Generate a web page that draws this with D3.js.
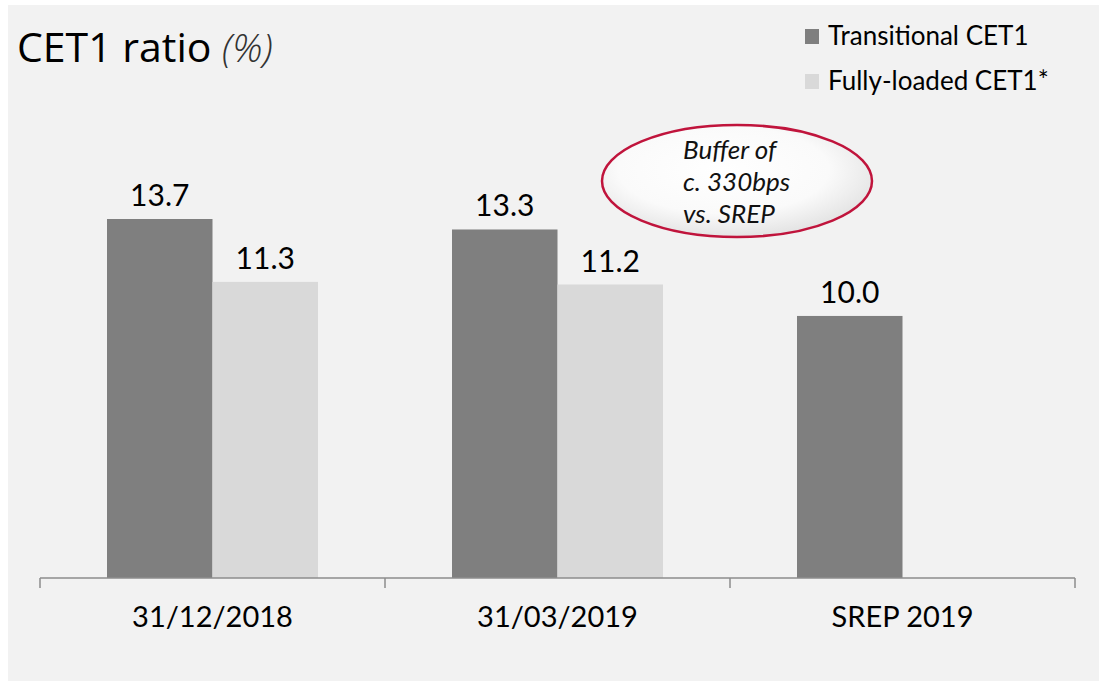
<!DOCTYPE html>
<html>
<head>
<meta charset="utf-8">
<script src="https://cdn.jsdelivr.net/npm/d3@7"></script>
<style>
  body { margin: 0; background: #fff; }
  svg { display: block; font-family: Lato, "Open Sans", sans-serif; }
</style>
</head>
<body>
<div id="chart"></div>
<script>
// data
const categories = ['31/12/2018', '31/03/2019', 'SREP 2019'];
const seriesNames = ['Transitional CET1', 'Fully-loaded CET1*'];
const transitional = [13.7, 13.3, 10.0];
const fullyLoaded = [11.3, 11.2, null];
const seriesColors = ['#7f7f7f', '#d9d9d9'];
const calloutLines = ['Buffer of', 'c. 330bps', 'vs. SREP'];

const W = 1099, H = 681;
const svg = d3.select('#chart').append('svg')
    .attr('width', W)
    .attr('height', H);

// grey panel
svg.append('rect')
    .attr('x', 8).attr('y', 5)
    .attr('width', W - 8).attr('height', H - 5)
    .attr('fill', '#f2f2f2');

const baseY = 578;
const x = d3.scaleBand().domain(categories).range([40, 1075]).paddingInner(0).paddingOuter(0);
const inner = d3.scaleBand().domain(seriesNames).range([0, 211]);
const y = d3.scaleLinear().domain([0, 13.7]).range([baseY, 219]);

const rows = categories.map((c, i) => ({cat: c, vals: [transitional[i], fullyLoaded[i]]}));

const groups = svg.selectAll('.grp')
    .data(rows)
    .enter()
    .append('g')
    .attr('class', 'grp')
    .attr('transform', d => `translate(${x(d.cat) + (x.bandwidth() - 211) / 2}, 0)`);

const cells = groups.selectAll('.bar')
    .data(d => d.vals.map((v, j) => ({name: seriesNames[j], v: v, j: j})).filter(e => e.v != null))
    .enter();

cells.append('rect')
    .attr('class', 'bar')
    .attr('x', d => inner(d.name))
    .attr('y', d => y(d.v))
    .attr('width', inner.bandwidth())
    .attr('height', d => baseY - y(d.v))
    .attr('fill', d => seriesColors[d.j]);

cells.append('text')
    .attr('x', d => inner(d.name) + inner.bandwidth() / 2)
    .attr('y', d => y(d.v) - 13)
    .attr('text-anchor', 'middle')
    .attr('font-size', 30)
    .attr('fill', '#000')
    .text(d => d.v.toFixed(1));

// x axis with ticks between categories
const axisG = svg.append('g');
axisG.append('line')
    .attr('x1', x.range()[0]).attr('x2', x.range()[1])
    .attr('y1', baseY).attr('y2', baseY)
    .attr('stroke', '#8c8c8c').attr('stroke-width', 1.5);
const tickXs = categories.map(c => x(c)).concat([x.range()[1]]);
axisG.selectAll('.tk')
    .data(tickXs)
    .enter()
    .append('line')
    .attr('x1', d => d).attr('x2', d => d)
    .attr('y1', baseY).attr('y2', baseY + 10)
    .attr('stroke', '#8c8c8c').attr('stroke-width', 1.5);
axisG.selectAll('.lbl')
    .data(categories)
    .enter()
    .append('text')
    .attr('x', d => x(d) + x.bandwidth() / 2)
    .attr('y', 627)
    .attr('text-anchor', 'middle')
    .attr('font-size', 29)
    .attr('fill', '#000')
    .text(d => d);

// title
const title = svg.append('text')
    .attr('x', 17).attr('y', 62)
    .attr('font-family', '"Open Sans", sans-serif')
    .attr('font-size', 41)
    .attr('fill', '#000');
title.append('tspan').text('CET1 ratio ');
title.append('tspan')
    .attr('font-style', 'italic')
    .attr('font-weight', 300)
    .attr('fill', '#333')
    .attr('font-size', 39)
    .text('(%)');

// legend
const legend = svg.selectAll('.leg')
    .data(seriesNames)
    .enter()
    .append('g')
    .attr('transform', (d, i) => `translate(805, ${29 + i * 45})`);
legend.append('rect')
    .attr('width', 14).attr('height', 15)
    .attr('fill', (d, i) => seriesColors[i]);
legend.append('text')
    .attr('x', 23).attr('y', 16)
    .attr('font-size', 26)
    .attr('fill', '#000')
    .text(d => d);

// callout bubble
const defs = svg.append('defs');
const grad = defs.append('radialGradient').attr('id', 'bub')
    .attr('cx', '45%').attr('cy', '40%').attr('r', '60%');
grad.append('stop').attr('offset', '0%').attr('stop-color', '#ffffff');
grad.append('stop').attr('offset', '65%').attr('stop-color', '#fafafa');
grad.append('stop').attr('offset', '100%').attr('stop-color', '#e4e4e4');

svg.append('ellipse')
    .attr('cx', 737).attr('cy', 181)
    .attr('rx', 135).attr('ry', 56)
    .attr('fill', 'url(#bub)')
    .attr('stroke', '#c0143c')
    .attr('stroke-width', 2.5);

svg.append('g').selectAll('text')
    .data(calloutLines)
    .enter()
    .append('text')
    .attr('x', 683)
    .attr('y', (d, i) => 159 + i * 32)
    .attr('font-size', 26)
    .attr('font-style', 'italic')
    .attr('fill', '#111')
    .text(d => d);
</script>
</body>
</html>
